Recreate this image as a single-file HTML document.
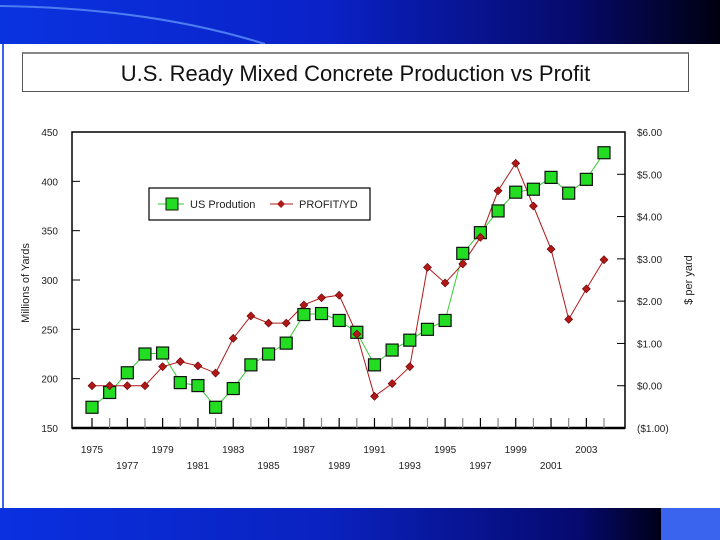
<!DOCTYPE html>
<html><head><meta charset="utf-8"><style>
body{margin:0;width:720px;height:540px;overflow:hidden;background:#fff;font-family:"Liberation Sans",sans-serif;position:relative}
#top{position:absolute;left:0;top:0;width:720px;height:44px;background:linear-gradient(90deg,#0a33e0 0%,#0a22c8 45%,#060a6a 80%,#000010 100%)}
#bot{position:absolute;left:0;top:508px;width:720px;height:32px;background:linear-gradient(90deg,#0a30e0 0%,#0a22c0 45%,#060a70 80%,#000018 92%)}
#sq{position:absolute;left:661px;top:508px;width:59px;height:32px;background:#3a64ee}
#title{position:absolute;left:22px;top:52px;width:667px;height:40px;border:1px solid #555;border-top:2px solid #888;box-sizing:border-box;text-align:center;font-size:22px;line-height:40px;color:#111}
</style></head><body>
<div id="top"><svg width="720" height="44"><path d="M0,6 Q150,8 265,44" stroke="#4d7cf0" stroke-width="2" fill="none"/></svg></div>
<div id="bot"></div>
<div id="sq"></div>
<div style="position:absolute;left:2px;top:44px;width:2px;height:464px;background:#3a64ee"></div>
<div id="title">U.S. Ready Mixed Concrete Production vs Profit</div>
<svg id="chart" width="720" height="540" style="position:absolute;left:0;top:0"></svg>
<script>
const years=[1975,1976,1977,1978,1979,1980,1981,1982,1983,1984,1985,1986,1987,1988,1989,1990,1991,1992,1993,1994,1995,1996,1997,1998,1999,2000,2001,2002,2003,2004];
const production=[171,186,206,225,226,196,193,171,190,214,225,236,265,266,259,247,214,229,239,250,259,327,348,370,389,392,404,388,402,429];
const profit=[0,0,0,0,0.45,0.57,0.47,0.30,1.12,1.65,1.48,1.48,1.91,2.08,2.14,1.22,-0.25,0.05,0.45,2.80,2.43,2.88,3.51,4.61,5.26,4.25,3.23,1.57,2.29,2.98];
const leftTicks=[150,200,250,300,350,400,450];
const rightTicks=[-1,0,1,2,3,4,5,6];
const rightLabels=["($1.00)","$0.00","$1.00","$2.00","$3.00","$4.00","$5.00","$6.00"];
const xLabelYears=[1975,1977,1979,1981,1983,1985,1987,1989,1991,1993,1995,1997,1999,2001,2003];

const L=72,R=625,T=132,B=428;
const x=yr=>92+(yr-1975)*(604-92)/29;
const yL=v=>B-(v-150)*(B-T)/300;
const yR=v=>B-(v+1)*(B-T)/7;
const svg=document.getElementById('chart');
const NS='http://www.w3.org/2000/svg';
function mk(tag,attrs,parent){const e=document.createElementNS(NS,tag);for(const k in attrs)e.setAttribute(k,attrs[k]);(parent||svg).appendChild(e);return e;}

let e;
e=mk('path',{d:`M${L},${T}H${R}V${B}H${L}Z`,fill:'none',stroke:'#000','stroke-width':1.5});


e=mk('line',{x1:L,y1:B,x2:R,y2:B,stroke:'#000','stroke-width':2.5});



leftTicks.forEach(v=>{
  const g=mk('g',{});
  
  
  mk('line',{x1:L,y1:yL(v),x2:L+8,y2:yL(v),stroke:'#000'},g);
  const t=mk('text',{x:58,y:yL(v)+4,'text-anchor':'end','font-size':10,fill:'#222'},g);t.textContent=v;
});
rightTicks.forEach((v,i)=>{
  const g=mk('g',{});
  
  
  mk('line',{x1:R-8,y1:yR(v),x2:R,y2:yR(v),stroke:'#000'},g);
  const t=mk('text',{x:637,y:yR(v)+4,'font-size':10,fill:'#222'},g);t.textContent=rightLabels[i];
});
years.forEach(yr=>{
  e=mk('line',{x1:x(yr),y1:B,x2:x(yr),y2:B-10,stroke:(yr%2?'#000':'#888'),'stroke-width':1.2});
  
  
});
xLabelYears.forEach((yr,i)=>{
  e=mk('text',{x:x(yr),y:(i%2===0?453:469),'text-anchor':'middle','font-size':10,fill:'#222'});
  e.textContent=yr;
  
  
});
e=mk('text',{x:0,y:0,transform:'translate(29,283) rotate(-90)','text-anchor':'middle','font-size':11,fill:'#222'});
e.textContent='Millions of Yards';


e=mk('text',{x:0,y:0,transform:'translate(692,280) rotate(-90)','text-anchor':'middle','font-size':11,fill:'#222'});
e.textContent='$ per yard';



e=mk('polyline',{points:years.map((yr,i)=>x(yr)+','+yL(production[i])).join(' '),fill:'none',stroke:'#3c3','stroke-width':1});


e=mk('polyline',{points:years.map((yr,i)=>x(yr)+','+yR(profit[i])).join(' '),fill:'none',stroke:'#b01818','stroke-width':1});


years.forEach((yr,i)=>{
  const cx=x(yr),cy=yL(production[i]);
  e=mk('rect',{x:cx-6,y:cy-6,width:12,height:12,fill:'#22dd22',stroke:'#111','stroke-width':1.2});
  
  
});
years.forEach((yr,i)=>{
  const cx=x(yr),cy=yR(profit[i]);
  e=mk('path',{d:`M${cx},${cy-4}L${cx+4},${cy}L${cx},${cy+4}L${cx-4},${cy}Z`,fill:'#b01818',stroke:'#600','stroke-width':0.6});
  
  
});

const lg=mk('g',{});


mk('rect',{x:149,y:188,width:221,height:32,fill:'#fff',stroke:'#000','stroke-width':1.2},lg);
mk('line',{x1:158,y1:204,x2:184,y2:204,stroke:'#3c3'},lg);
mk('rect',{x:166,y:198,width:12,height:12,fill:'#22dd22',stroke:'#111'},lg);
let t=mk('text',{x:190,y:208,'font-size':11,fill:'#222'},lg);t.textContent='US Prodution';
mk('line',{x1:270,y1:204,x2:293,y2:204,stroke:'#b01818'},lg);
mk('path',{d:'M281,200L285,204L281,208L277,204Z',fill:'#b01818'},lg);
t=mk('text',{x:299,y:208,'font-size':11,fill:'#222'},lg);t.textContent='PROFIT/YD';
</script>
</body></html>
